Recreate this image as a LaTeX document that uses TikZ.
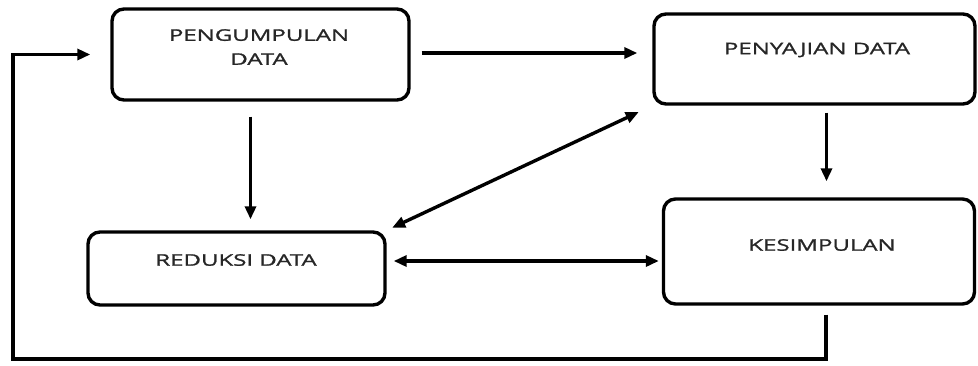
\documentclass[tikz,border=0pt]{standalone}
\usepackage{fontspec}
\setmainfont[FakeStretch=1.5,FakeBold=1.3]{Open Sans}
\usetikzlibrary{arrows.meta}

\tikzset{
  box/.style={draw, line width=3.4pt, rounded corners=12pt},
  lbl/.style={align=center, font=\fontsize{16}{24}\selectfont, text=black!85},
  arr/.style={line width=3.4pt, -{Triangle[length=13pt,width=11pt]}},
  dbl/.style={line width=3.4pt, {Triangle[length=13pt,width=11pt]}-{Triangle[length=13pt,width=11pt]}}
}

\begin{document}
\begin{tikzpicture}[x=1pt,y=-1pt]
        \useasboundingbox (0,0) rectangle (978,365);
        \node[box, minimum width=297pt, minimum height=91pt] (kumpul)  at (260.5, 54.5) {};
        \node[box, minimum width=321pt, minimum height=90pt] (saji)    at (814.5, 59)   {};
        \node[box, minimum width=297pt, minimum height=73pt] (reduksi) at (236.5,268.5) {};
        \node[box, minimum width=311pt, minimum height=105pt] (simpul) at (819,251.5)   {};
        \node[lbl] (kumpulT)  at (259, 47)  {PENGUMPULAN\\DATA};
        \node[lbl] (sajiT)    at (817, 50)  {PENYAJIAN DATA};
        \node[lbl] (reduksiT) at (236, 260) {REDUKSI DATA};
        \node[lbl] (simpulT)  at (822, 245) {KESIMPULAN};
        \coordinate (loop) at (13, 359);
        \draw[arr, shorten <=11pt, shorten >=15pt] ([yshift=1.5pt]kumpul.east)
          -- ([yshift=1.5pt]kumpul.east -| saji.west);
        \draw[arr, shorten <=15pt, shorten >=11pt] ([xshift=-10pt]kumpul.south)
          -- ([xshift=-10pt]kumpul.south |- reduksi.north);
        \draw[arr, shorten <=7pt, shorten >=16pt] ([xshift=12pt]saji.south)
          -- ([xshift=12pt]saji.south |- simpul.north);
        \draw[dbl, shorten <=6pt, shorten >=15pt] (reduksi.north east) -- (saji.south west);
        \draw[dbl, shorten <=7pt, shorten >=3pt] ([yshift=7.5pt]reduksi.east)
          -- ([yshift=7.5pt]reduksi.east -| simpul.west);
        %% back to the start
        \draw[arr, shorten <=9pt, shorten >=20pt] ([xshift=7pt]simpul.south)
          -- ([xshift=7pt]simpul.south |- loop) -- (loop) |- (kumpul.west);
\end{tikzpicture}
\end{document}
